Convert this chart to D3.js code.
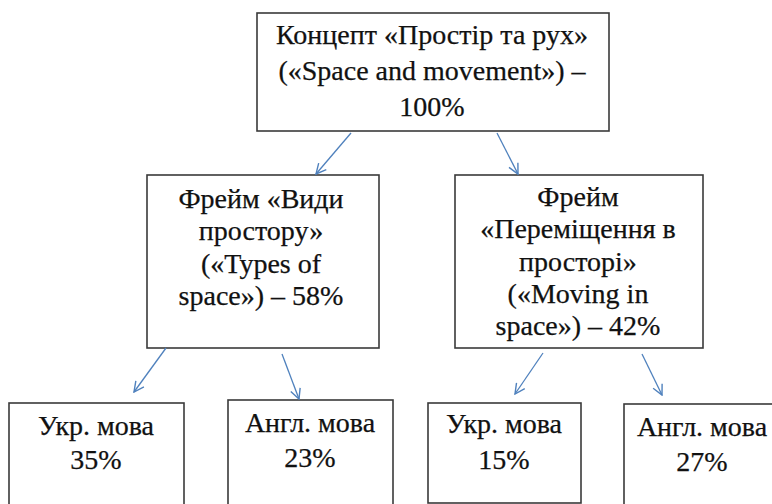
<!DOCTYPE html>
<html>
<head>
<meta charset="utf-8">
<script src="https://cdn.jsdelivr.net/npm/d3@7"></script>
<style>
  html, body { margin: 0; padding: 0; background: #fff; }
  svg { display: block; }
</style>
</head>
<body>
<script>
// ---- Data ----
const rootLabel = ["Концепт «Простір та рух»", "(«Space and movement») –"];
const rootValue = [100];
const frameLabels = [
  ["Фрейм «Види", "простору»", "(«Types of", "space») – "],
  ["Фрейм", "«Переміщення в", "просторі»", "(«Moving in", "space») – "]
];
const frameValues = [58, 42];
const langLabels = ["Укр. мова", "Англ. мова", "Укр. мова", "Англ. мова"];
const langValues = [35, 23, 15, 27];

// ---- Layout (geometry only) ----
const W = 772, H = 504;
const svg = d3.select("body").append("svg").attr("width", W).attr("height", H);

const defs = svg.append("defs");
defs.append("marker")
  .attr("id", "arr").attr("viewBox", "0 0 12 12")
  .attr("refX", 11).attr("refY", 6)
  .attr("markerWidth", 12).attr("markerHeight", 12)
  .attr("markerUnits", "userSpaceOnUse")
  .attr("orient", "auto")
  .append("path").attr("d", "M1,1 L11,6 L1,11")
  .attr("fill", "none").attr("stroke", "#4f81bd").attr("stroke-width", 1.4);

const fs = 28;

const rootBox = {x0: 257, y0: 13, x1: 609, y1: 131, cx: 432, base: 44, step: 36};
const frameBoxes = [
  {x0: 147, y0: 175, x1: 379, y1: 348, cx: 261, base: 208, step: 32.4},
  {x0: 455, y0: 175, x1: 703, y1: 348, cx: 578, base: 206, step: 32.3}
];
const langBoxes = [
  {x0: 9,   y0: 403, x1: 184, y1: 530, cx: 96,  base: 435, step: 34},
  {x0: 228, y0: 400, x1: 393, y1: 530, cx: 310, base: 432, step: 35},
  {x0: 428, y0: 403, x1: 581, y1: 503, cx: 504, base: 433, step: 36},
  {x0: 624, y0: 404, x1: 782, y1: 530, cx: 702, base: 436, step: 35}
];
const rootArrows = [
  {x1: 351, y1: 133, x2: 316, y2: 174},
  {x1: 497, y1: 133, x2: 518, y2: 174}
];
const langArrows = [
  {x1: 166, y1: 348, x2: 134, y2: 392},
  {x1: 282, y1: 354, x2: 299, y2: 399},
  {x1: 543, y1: 353, x2: 515, y2: 394},
  {x1: 642, y1: 354, x2: 662, y2: 395}
];

// ---- Nodes ----
const nodes = [];
nodes.push(Object.assign({lines: rootLabel.concat([rootValue[0] + "%"])}, rootBox));
frameLabels.forEach((lab, i) => {
  const lines = lab.slice();
  lines[lines.length - 1] = lines[lines.length - 1] + frameValues[i] + "%";
  nodes.push(Object.assign({lines}, frameBoxes[i]));
});
langLabels.forEach((lab, i) => {
  nodes.push(Object.assign({lines: [lab, langValues[i] + "%"]}, langBoxes[i]));
});

const g = svg.append("g");
const node = g.selectAll("g.node").data(nodes).join("g").attr("class", "node");
node.append("rect")
  .attr("x", d => d.x0).attr("y", d => d.y0)
  .attr("width", d => d.x1 - d.x0).attr("height", d => d.y1 - d.y0)
  .attr("fill", "#fff").attr("stroke", "#3a3a3a").attr("stroke-width", 1.6);
node.each(function(d) {
  const t = d3.select(this).append("text")
    .style("font-family", '"Liberation Serif", "Times New Roman", serif')
    .style("font-size", fs + "px")
    .attr("fill", "#111").attr("stroke", "#111").attr("stroke-width", 0.25)
    .attr("text-anchor", "middle");
  d.lines.forEach((ln, i) => {
    t.append("tspan").attr("x", d.cx).attr("y", d.base + i * d.step).text(ln);
  });
});

// ---- Arrows ----
svg.selectAll("line.arrow").data(rootArrows.concat(langArrows)).join("line")
  .attr("class", "arrow")
  .attr("x1", d => d.x1).attr("y1", d => d.y1)
  .attr("x2", d => d.x2).attr("y2", d => d.y2)
  .attr("stroke", "#4f81bd").attr("stroke-width", 1.3)
  .attr("marker-end", "url(#arr)");
</script>
</body>
</html>
